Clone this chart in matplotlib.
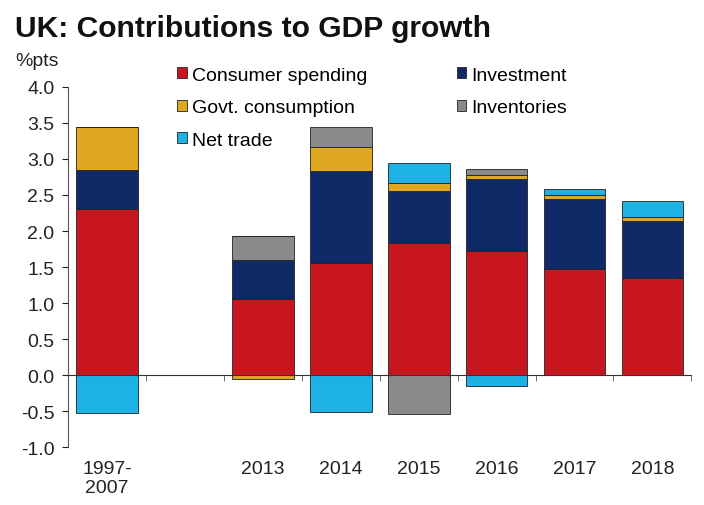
import matplotlib.pyplot as plt
import numpy as np

plt.rcParams['font.family'] = ['Liberation Sans', 'DejaVu Sans']

periods = ["1997-\n2007", "", "2013", "2014", "2015", "2016", "2017", "2018"]

consumer    = [2.30, 0.00, 1.06, 1.55, 1.83, 1.72, 1.47, 1.35]
investment  = [0.55, 0.00, 0.54, 1.29, 0.72, 1.00, 0.97, 0.79]
govt        = [0.60, 0.00, -0.06, 0.32, 0.11, 0.06, 0.06, 0.06]
inventories = [0.00, 0.00, 0.33, 0.28, -0.54, 0.08, 0.00, 0.00]
net_trade   = [-0.53, 0.00, 0.00, -0.52, 0.29, -0.15, 0.09, 0.22]

series = [
    ("Consumer spending", consumer,    "#C8161E"),
    ("Investment",        investment,  "#0F2A66"),
    ("Govt. consumption", govt,        "#E0A820"),
    ("Inventories",       inventories, "#8A8A8A"),
    ("Net trade",         net_trade,   "#1EB2E4"),
]

fig = plt.figure(figsize=(7.04, 5.06), dpi=100)
ax = fig.add_axes([0.097, 0.1146, 0.885, 0.7115])

x = np.arange(len(periods))
pos_base = np.zeros(len(periods))
neg_base = np.zeros(len(periods))
handles = {}
for name, vals, col in series:
    v = np.array(vals)
    base = np.where(v >= 0, pos_base, neg_base)
    h = ax.bar(x, v, bottom=base, width=0.79, color=col,
               edgecolor="#222222", linewidth=0.6)
    handles[name] = h
    pos_base += np.where(v > 0, v, 0)
    neg_base += np.where(v < 0, v, 0)

ax.set_xlim(-0.5, len(periods) - 0.5)
ax.set_ylim(-1.0, 4.0)
yt = np.arange(-1.0, 4.01, 0.5)
ax.set_yticks(yt)
ax.set_yticklabels([f"{t:.1f}" for t in yt])
ax.tick_params(axis="y", direction="out", length=4, labelsize=14, pad=6,
               colors="#222222")

# zero line acts as category axis, labels sit under the plot
for s in ["top", "right"]:
    ax.spines[s].set_visible(False)
ax.spines["bottom"].set_position(("data", 0))
ax.spines["bottom"].set_color("#333333")
ax.spines["left"].set_color("#555555")
ax.set_xticks(x)
ax.set_xticklabels(periods)
ax.set_xticks(np.arange(-0.5, len(periods), 1.0), minor=True)
ax.tick_params(axis="x", which="major", length=0, labelsize=14, pad=61,
               colors="#222222")
ax.tick_params(axis="x", which="minor", length=4, direction="out",
               color="#555555")

order = ["Consumer spending", "Govt. consumption", "Net trade",
         "Investment", "Inventories"]
ax.legend([handles[n] for n in order], order, ncol=2, frameon=False,
          loc="upper left", bbox_to_anchor=(0.147, 1.105), fontsize=14,
          handlelength=0.5, handleheight=0.5, handletextpad=0.25,
          columnspacing=4.6, labelspacing=0.8)

fig.text(0.021, 0.927, "UK: Contributions to GDP growth", fontsize=21.6,
         fontweight="bold", color="#111111")
fig.text(0.021, 0.870, "%pts", fontsize=14, color="#222222")

fig.savefig("out.png", dpi=100)
